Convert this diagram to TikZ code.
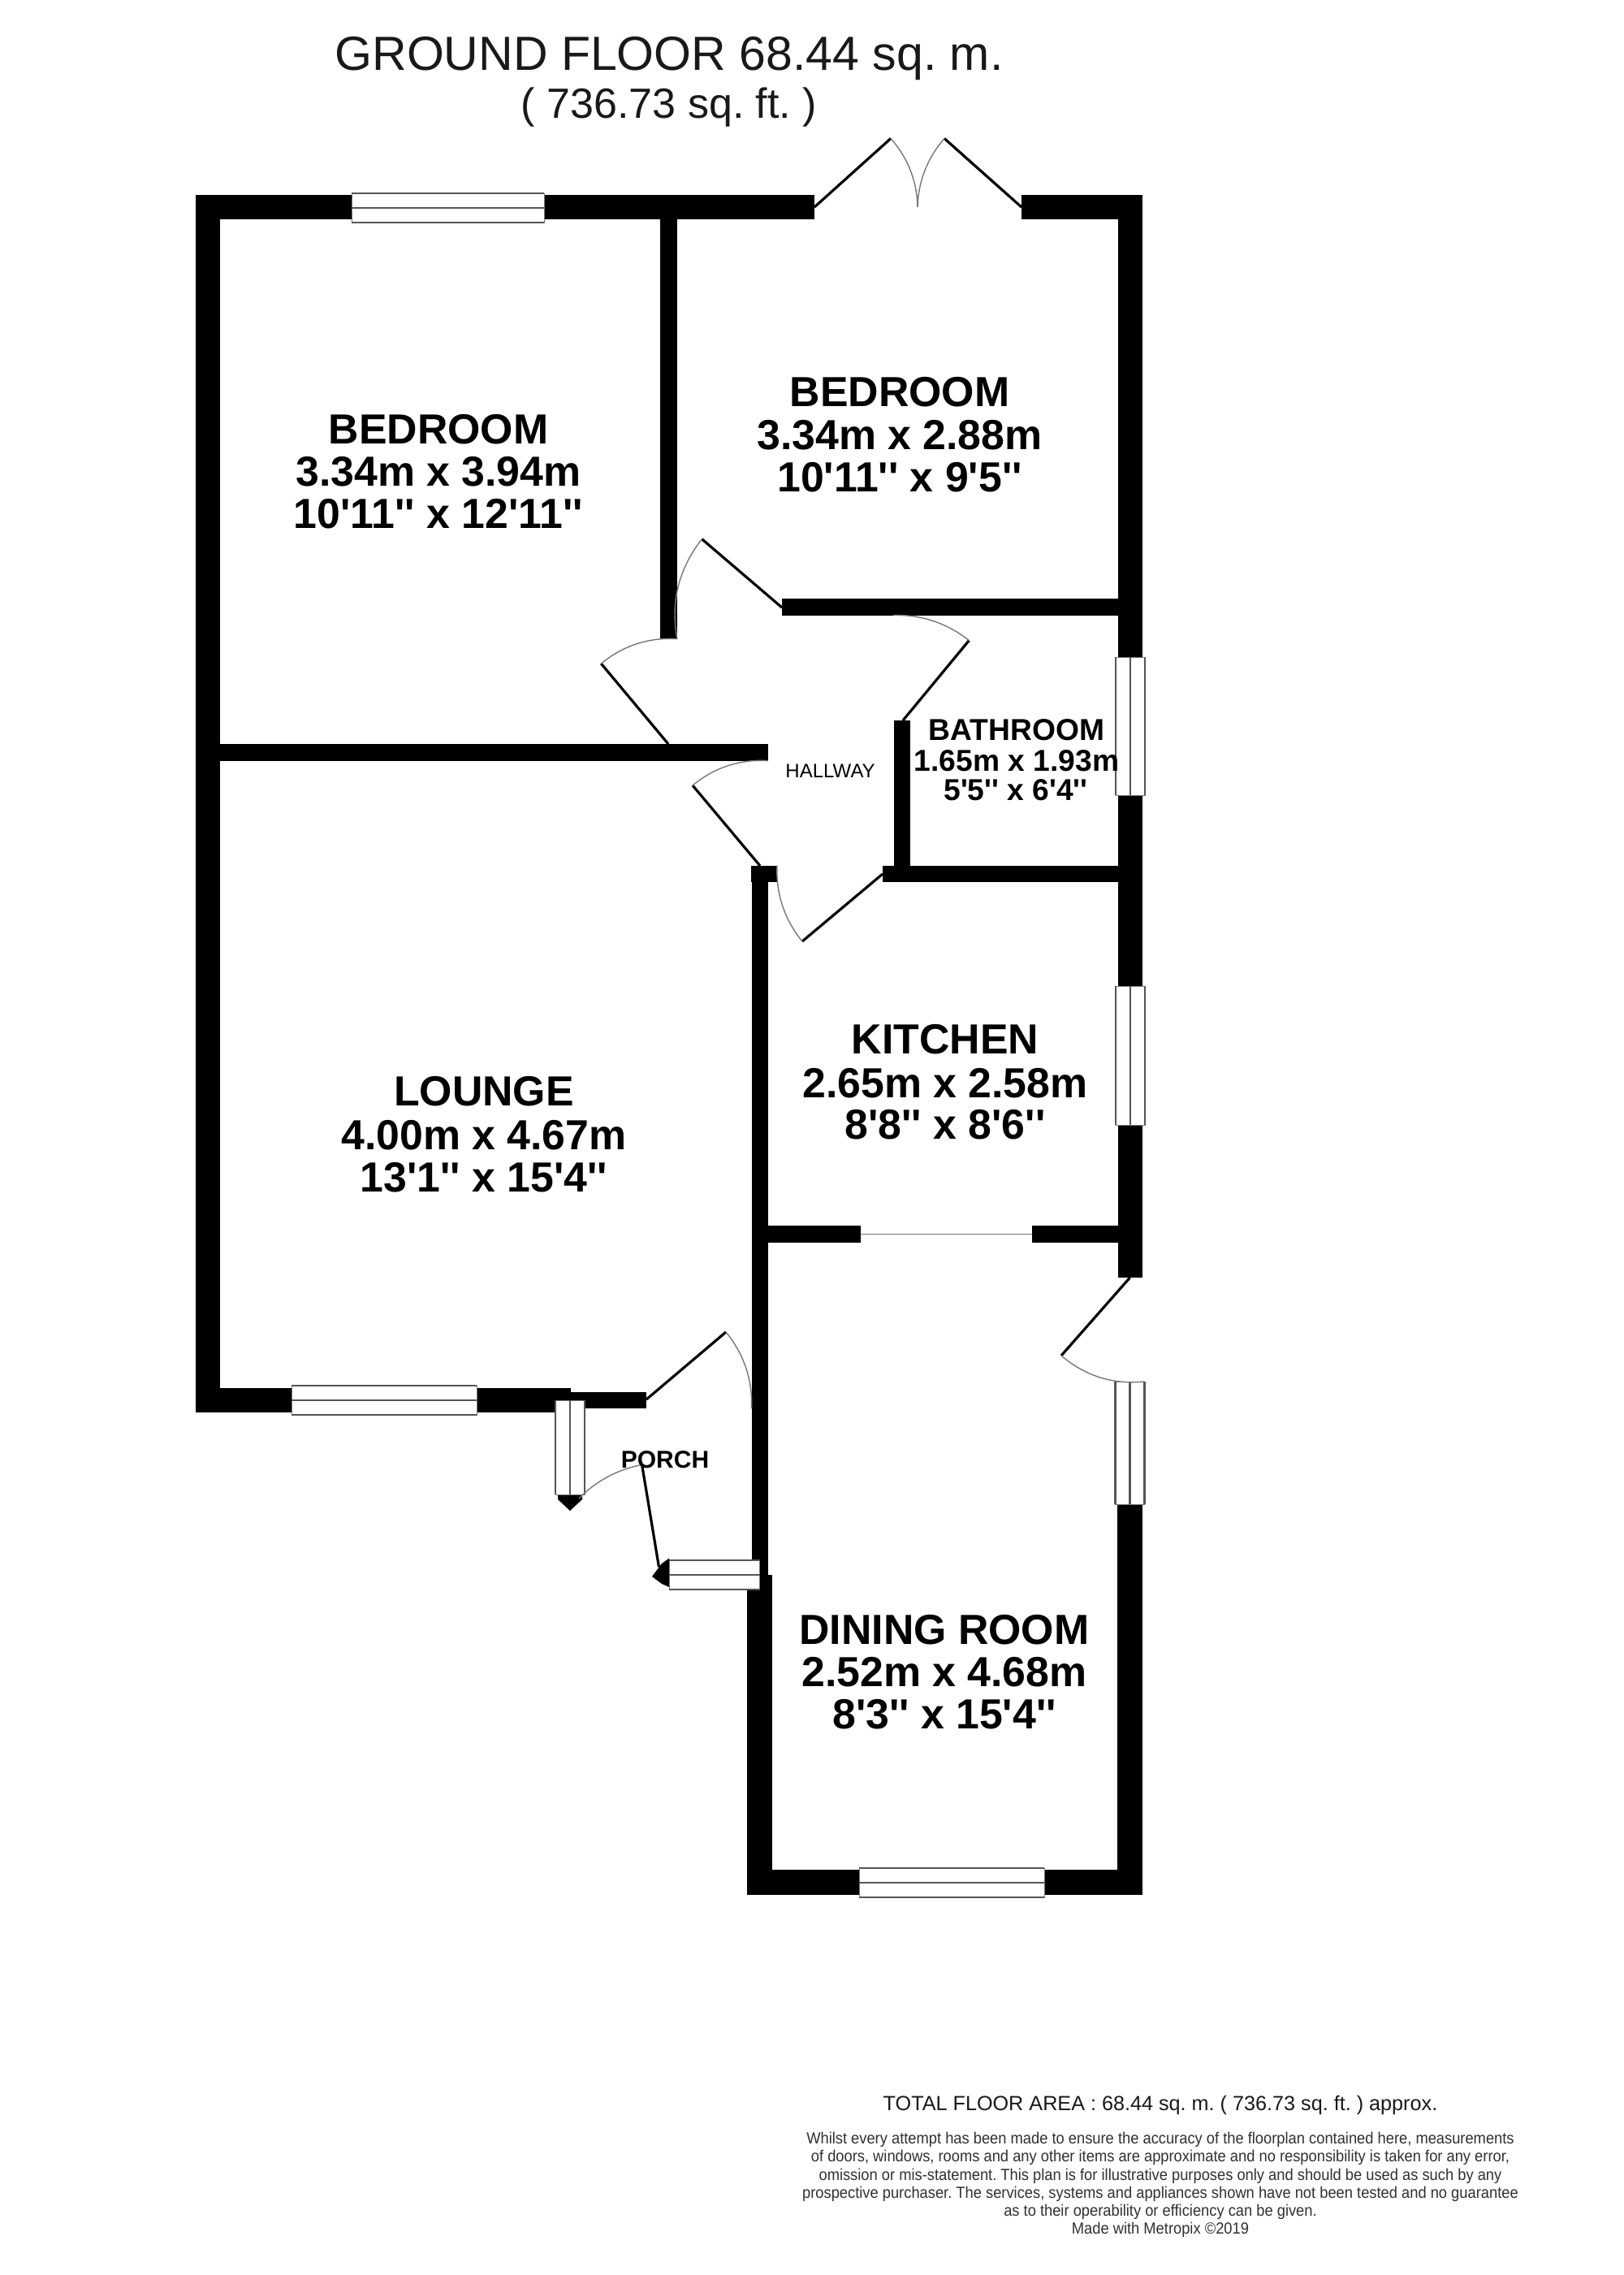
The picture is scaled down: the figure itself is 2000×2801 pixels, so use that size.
\documentclass[tikz,border=0pt]{standalone}
\usepackage{fontspec}
\usetikzlibrary{calc}
\newfontfamily\arl{Liberation Sans}
\newfontfamily\arlb{Liberation Sans Bold}
\newfontfamily\arlfine[FakeStretch=0.925]{Liberation Sans}
\definecolor{winline}{HTML}{555555}
\definecolor{swingline}{HTML}{777777}
\definecolor{smalltext}{HTML}{303030}
\newcommand\q{\char39\relax}
\newcommand\qq{\char39\relax\char39\relax}
\frenchspacing
\tikzset{
  wall/.style={fill=black,draw=none},
  leaf/.style={draw=black,line width=1.6pt},
  swing/.style={draw=swingline,line width=.7pt},
  winbody/.style={fill=white,draw=swingline,line width=.4pt},
  winstroke/.style={draw=winline,line width=1.3pt},
  lab/.style={anchor=base,inner sep=0pt,outer sep=0pt,align=center},
  big/.style={lab,font=\frenchspacing\arlb\fontsize{25.9}{25.9}\selectfont},
  bath/.style={lab,font=\frenchspacing\arlb\fontsize{18.6}{18.6}\selectfont},
  titletext/.style={lab,text=black!90,font=\frenchspacing\arl\fontsize{29.5}{29.5}\selectfont},
  subtitletext/.style={lab,text=black!90,font=\frenchspacing\arl\fontsize{26}{26}\selectfont},
  totaltext/.style={lab,text=black!90,font=\frenchspacing\arl\fontsize{12.6}{12.6}\selectfont},
  finetext/.style={lab,text=smalltext,font=\frenchspacing\arlfine\fontsize{9.9}{9.9}\selectfont},
}
\newcommand\wallrect[4]{\fill[wall] (#1,#2) rectangle (#3,#4);}
\newcommand\hwin[3]{% x1 x2 ymid ; half depth 18
  \path[winbody] (#1,#3-18) rectangle (#2,#3+18);
  \draw[winstroke] (#1,#3-18) -- (#2,#3-18) (#1,#3) -- (#2,#3) (#1,#3+18) -- (#2,#3+18);}
\newcommand\vwin[3]{% xmid y1 y2
  \path[winbody] (#1-18,#2) rectangle (#1+18,#3);
  \draw[winstroke] (#1-18,#2) -- (#1-18,#3) (#1,#2) -- (#1,#3) (#1+18,#2) -- (#1+18,#3);}
\newcommand\door[6]{% hinge tip end
  \pgfmathsetmacro\mxx{(#3+#5)/2}
  \pgfmathsetmacro\myy{(#4+#6)/2}
  \pgfmathsetmacro\rr{((#3-#1)/10)^2+((#4-#2)/10)^2}
  \pgfmathsetmacro\dd{((\mxx-#1)/10)^2+((\myy-#2)/10)^2}
  \pgfmathsetmacro\kk{\rr/\dd}
  \pgfmathsetmacro\cxx{#1+(\mxx-#1)*\kk}
  \pgfmathsetmacro\cyy{#2+(\myy-#2)*\kk}
  \draw[leaf] (#1,#2) -- (#3,#4);
  \draw[swing] (#3,#4) .. controls ($(#3,#4)!.66!(\cxx,\cyy)$) and ($(#5,#6)!.66!(\cxx,\cyy)$) .. (#5,#6);}
\begin{document}
\begin{tikzpicture}[x=.5pt,y=-.5pt]
\useasboundingbox (0,0) rectangle (2000,2801);
\fill[white] (0,0) rectangle (2000,2801);
% walls
\wallrect{241}{240}{1003}{270}
\wallrect{1258}{240}{1407}{270}
\wallrect{241}{240}{271}{1739}
\wallrect{241}{1709}{703}{1739}
\wallrect{703}{1714}{796}{1734}
\wallrect{813}{270}{834}{787}
\wallrect{271}{916}{946}{937}
\wallrect{963}{737}{1377}{757.5}
\wallrect{1377}{240}{1407}{1573}
\wallrect{1101}{887}{1121}{1066}
\wallrect{1087}{1066}{1377}{1086}
\wallrect{925}{1066}{957}{1086}
\wallrect{925.5}{1066}{945.5}{1939}
\wallrect{920}{1939}{951}{2333}
\wallrect{920}{2302}{1407}{2333}
\wallrect{1376}{1852}{1407}{2333}
\wallrect{945}{1509}{1060}{1530}
\wallrect{1271}{1509}{1377}{1530}
\draw[swing] (1060,1519.6) -- (1271,1519.6);
% porch window tips
\fill[black] (687,1840) -- (717,1840) -- (717,1846) -- (702,1860) -- (687,1846) -- cycle;
\fill[black] (824,1918.5) -- (815,1925) -- (803,1941) -- (815,1950) -- (824,1954) -- cycle;
% windows
\hwin{433}{670}{256}
\hwin{359}{587}{1724}
\hwin{1058}{1286}{2318}
\hwin{824}{935.5}{1939}
\vwin{1392}{809}{979}
\vwin{1392}{1214}{1385}
\vwin{1391.5}{1701}{1852}
\vwin{702}{1724}{1840}
% doors
\door{963}{748}{864.4}{663.7}{834}{786.6}
\door{823}{916}{740.3}{817}{834}{786.6}
\door{1112}{887}{1193.4}{788.5}{1100}{757.5}
\door{936}{1066}{853}{967}{945.6}{936.6}
\door{1087}{1076}{988}{1159}{957}{1066}
\door{796}{1723}{894}{1640}{925.5}{1734}
\door{1391.5}{1573}{1307}{1669}{1409}{1701}
\door{811.5}{1929.4}{790.6}{1803.4}{713}{1845}
\door{1003}{255}{1097}{170.5}{1130}{255}
\door{1258}{255}{1163}{170.5}{1130}{255}
% title
\node[titletext] (title1) at (824,86) {GROUND FLOOR 68.44 sq. m.};
\node[subtitletext] (title2) at (824,145) {( 736.73 sq. ft. )};
% rooms
\node[big] (bed1a) at (540,546) {BEDROOM};
\node[big] (bed1b) at (540,598) {3.34m x 3.94m};
\node[big] (bed1c) at (540,650) {10\q11\qq\ x 12\q11\qq};
\node[big] (bed2a) at (1108,500.5) {BEDROOM};
\node[big] (bed2b) at (1108,553) {3.34m x 2.88m};
\node[big] (bed2c) at (1108,605) {10\q11\qq\ x 9\q5\qq};
\node[big] (lou1) at (596,1361) {LOUNGE};
\node[big] (lou2) at (596,1415) {4.00m x 4.67m};
\node[big] (lou3) at (596,1467) {13\q1\qq\ x 15\q4\qq};
\node[big] (kit1) at (1164,1297) {KITCHEN};
\node[big] (kit2) at (1164,1351) {2.65m x 2.58m};
\node[big] (kit3) at (1164,1402) {8\q8\qq\ x 8\q6\qq};
\node[big] (din1) at (1163,2024) {DINING ROOM};
\node[big] (din2) at (1163,2076) {2.52m x 4.68m};
\node[big] (din3) at (1163,2128) {8\q3\qq\ x 15\q4\qq};
\node[bath] (bat1) at (1252,911) {BATHROOM};
\node[bath] (bat2) at (1252,949) {1.65m x 1.93m};
\node[bath] (bat3) at (1251,985) {5\q5\qq\ x 6\q4\qq};
\node[lab,font=\arl\fontsize{12}{12}\selectfont] (hall) at (1022.6,957) {HALLWAY};
\node[lab,font=\arlb\fontsize{15}{15}\selectfont] (porch) at (819,1807) {PORCH};
% footer
\node[totaltext] (tot) at (1429,2598) {TOTAL FLOOR AREA : 68.44 sq. m. ( 736.73 sq. ft. ) approx.};
\node[finetext] (f1) at (1429,2639) {Whilst every attempt has been made to ensure the accuracy of the floorplan contained here, measurements};
\node[finetext] (f2) at (1429,2661.5) {of doors, windows, rooms and any other items are approximate and no responsibility is taken for any error,};
\node[finetext] (f3) at (1429,2684) {omission or mis-statement. This plan is for illustrative purposes only and should be used as such by any};
\node[finetext] (f4) at (1429,2706) {prospective purchaser. The services, systems and appliances shown have not been tested and no guarantee};
\node[finetext] (f5) at (1429,2728) {as to their operability or efficiency can be given.};
\node[finetext] (f6) at (1429,2750) {Made with Metropix \textcopyright 2019};
\end{tikzpicture}
\end{document}
